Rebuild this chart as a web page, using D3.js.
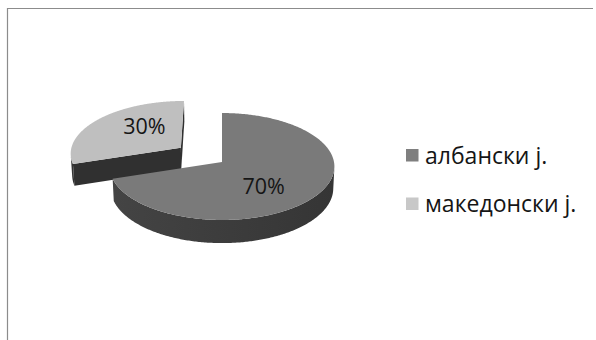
<!DOCTYPE html>
<html><head><meta charset="utf-8">
<script src="https://cdn.jsdelivr.net/npm/d3@7"></script>
<style>html,body{margin:0;padding:0;background:#fff;}svg{display:block;}</style>
</head><body>
<svg id="c" width="596" height="340"></svg>
<script>
const categories = ["албански j.", "македонски j."];
const values = [70, 30];
const labels = ["70%", "30%"];
const exploded = [false, true];
const topColors = ["#7a7a7a", "#bfbfbf"];
const sideColors = ["#3c3c3c", "#343434"];
const legendColors = ["#7f7f7f", "#c8c8c8"];

const svg = d3.select("#c");
// frame (top and left edges visible)
svg.append("path").attr("d", "M7.5,340 L7.5,8.5 L593,8.5")
  .attr("fill", "none").attr("stroke", "#8c8c8c").attr("stroke-width", 1.2);

const cx = 222, cy = 162, R = 112, H = 25, EXP = 52;
const sa = 0.474, ca = Math.sqrt(1 - sa * sa), D = 1173;
const cam = [0, D * sa, -D * ca];
function proj(X, Y, Z) {
  const yp = Y * ca + Z * sa, zp = -Y * sa + Z * ca;
  const k = D / (D + zp);
  return [cx + X * k, cy - yp * k];
}
const pie = d3.pie().sort(null).value(d => d)(values);
const slices = pie.map((p, i) => {
  const mid = (p.startAngle + p.endAngle) / 2;
  const e = exploded[i] ? EXP : 0;
  return {i, a0: p.startAngle, a1: p.endAngle, mid,
    ox: e * Math.sin(mid), oz: e * Math.cos(mid)};
});
slices.forEach(s => s.depth = s.oz + 0.5 * R * Math.cos(s.mid));
const order = slices.slice().sort((a, b) => b.depth - a.depth);
const line = d3.line();
function visible(n, p) {
  return n[0] * (cam[0] - p[0]) + n[1] * (cam[1] - p[1]) + n[2] * (cam[2] - p[2]) > 0;
}
const defs = svg.append("defs");
const g = svg.append("g");
order.forEach(s => {
  const gr = defs.append("linearGradient").attr("id", "side" + s.i)
    .attr("x1", "0").attr("x2", "1").attr("y1", "0").attr("y2", "0");
  gr.append("stop").attr("offset", "0").attr("stop-color", d3.color(sideColors[s.i]).brighter(0.35));
  gr.append("stop").attr("offset", "1").attr("stop-color", d3.color(sideColors[s.i]).darker(0.35));
  const P = (r, a, Y) => proj(s.ox + r * Math.sin(a), Y, s.oz + r * Math.cos(a));
  // radius faces
  [[s.a0, [-Math.cos(s.a0), 0, Math.sin(s.a0)]], [s.a1, [Math.cos(s.a1), 0, -Math.sin(s.a1)]]].forEach(([a, n]) => {
    const c3 = [s.ox + R / 2 * Math.sin(a), -H / 2, s.oz + R / 2 * Math.cos(a)];
    if (!visible(n, c3)) return;
    g.append("path").attr("d", line([P(0, a, 0), P(R, a, 0), P(R, a, -H), P(0, a, -H)]) + "Z")
      .attr("fill", d3.color(sideColors[s.i]).darker(0.25));
  });
  // outer side
  const N = 360;
  let run = [];
  const runs = [];
  for (let j = 0; j <= N; j++) {
    const a = s.a0 + (s.a1 - s.a0) * j / N;
    const n = [Math.sin(a), 0, Math.cos(a)];
    const p = [s.ox + R * Math.sin(a), -H / 2, s.oz + R * Math.cos(a)];
    if (visible(n, p)) run.push(a); else if (run.length) { runs.push(run); run = []; }
  }
  if (run.length) runs.push(run);
  runs.forEach(rn => {
    const pts = rn.map(a => P(R, a, 0)).concat(rn.slice().reverse().map(a => P(R, a, -H)));
    g.append("path").attr("d", line(pts) + "Z").attr("fill", "url(#side" + s.i + ")");
  });
  // top face
  const tp = [P(0, 0, 0)];
  for (let j = 0; j <= N; j++) tp.push(P(R, s.a0 + (s.a1 - s.a0) * j / N, 0));
  g.append("path").attr("d", line(tp) + "Z").attr("fill", topColors[s.i]);
});
// data labels
slices.forEach(s => {
  const a = s.mid + Math.PI / 12, r = 0.57 * R;
  const p = proj(s.ox + r * Math.sin(a), 0, s.oz + r * Math.cos(a));
  svg.append("text").attr("x", p[0]).attr("y", p[1]).attr("dy", "0.35em")
    .attr("text-anchor", "middle").attr("font-family", "Open Sans, sans-serif")
    .attr("font-size", 21.5).attr("fill", "#151515").text(labels[s.i]);
});
// legend
const lg = svg.append("g").attr("transform", "translate(406,149)");
categories.forEach((c, i) => {
  const row = lg.append("g").attr("transform", `translate(0,${i * 48.5})`);
  row.append("rect").attr("width", 12.5).attr("height", 12.5).attr("fill", legendColors[i]);
  row.append("text").attr("x", 19).attr("y", 14.5).attr("font-family", "Open Sans, sans-serif")
    .attr("font-size", 23).attr("fill", "#151515").text(c);
});
</script>
</body></html>
